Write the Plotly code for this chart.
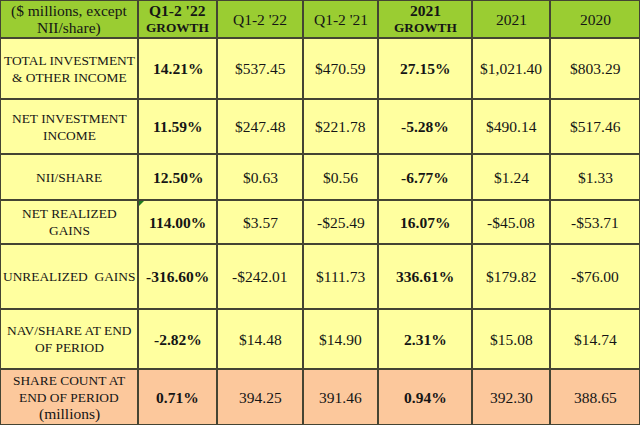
import plotly.graph_objects as go

# ------------------------------- data -------------------------------
header = ["($ millions, except\nNII/share)", "Q1-2 '22\nGROWTH", "Q1-2 '22",
          "Q1-2 '21", "2021\nGROWTH", "2021", "2020"]
row_labels = ["TOTAL INVESTMENT\n& OTHER INCOME", "NET INVESTMENT\nINCOME", "NII/SHARE",
              "NET REALIZED\nGAINS", "UNREALIZED  GAINS", "NAV/SHARE AT END\nOF PERIOD",
              "SHARE COUNT AT\nEND OF PERIOD\n(millions)"]
growth_q12 = [14.21, 11.59, 12.50, 114.00, -316.60, -2.82, 0.71]
q12_22 = [537.45, 247.48, 0.63, 3.57, -242.01, 14.48, 394.25]
q12_21 = [470.59, 221.78, 0.56, -25.49, 111.73, 14.90, 391.46]
growth_21 = [27.15, -5.28, -6.77, 16.07, 336.61, 2.31, 0.94]
y2021 = [1021.40, 490.14, 1.24, -45.08, 179.82, 15.08, 392.30]
y2020 = [803.29, 517.46, 1.33, -53.71, -76.00, 14.74, 388.65]
dollar_rows = [True, True, True, True, True, True, False]

# ------------------------------- layout constants -------------------
col_edges = [0, 138, 217, 303, 378, 472, 550, 640]
row_edges = [0, 38, 99, 154, 200, 244, 309, 369, 425]
colors = ['#9acd32', '#ffff9f', '#fcc89c']
LINE = 17


def pct(v):
    return f"{v:.2f}%"


def money(v, dollar):
    if not dollar:
        return f"{v:,.2f}"
    sign = "-" if v < 0 else ""
    return f"{sign}${abs(v):,.2f}"


# build cell texts / bold flags
cells = [[(h, h.endswith("GROWTH")) for h in header]]
for i, lab in enumerate(row_labels):
    d = dollar_rows[i]
    cells.append([(lab, False),
                  (pct(growth_q12[i]), True),
                  (money(q12_22[i], d), False),
                  (money(q12_21[i], d), False),
                  (pct(growth_21[i]), True),
                  (money(y2021[i], d), False),
                  (money(y2020[i], d), False)])

# background kind per row: header, normal, last row
z = []
for r in range(len(cells)):
    kind = 0 if r == 0 else (2 if r == len(cells) - 1 else 1)
    z.append([kind] * (len(col_edges) - 1))

fig = go.Figure()
fig.add_trace(go.Heatmap(
    x=col_edges, y=row_edges, z=z,
    colorscale=[[0, colors[0]], [0.5, colors[1]], [1, colors[2]]],
    zmin=0, zmax=2, showscale=False, hoverinfo='skip',
    xgap=2, ygap=2))


def font_size(line, bold):
    # all-caps words are set a bit smaller (times caps run wide)
    letters = [c for c in line if c.isalpha()]
    if len(letters) >= 3 and line.upper() == line:
        return 13.3 if bold else 13.4
    return 15.5


annotations = []
for r, row in enumerate(cells):
    yc = (row_edges[r] + row_edges[r + 1]) / 2
    for c, (txt, bold) in enumerate(row):
        xc = (col_edges[c] + col_edges[c + 1]) / 2
        lines = txt.split("\n")
        n = len(lines)
        for k, line in enumerate(lines):
            t = f"<b>{line}</b>" if bold else line
            annotations.append(dict(
                x=xc, y=yc + (k - (n - 1) / 2) * LINE, text=t,
                showarrow=False, xanchor='center', yanchor='middle',
                font=dict(family='Liberation Serif', size=font_size(line, bold),
                          color='#151515')))

# little excel error marker in the NET REALIZED GAINS / growth cell
x0, y0 = col_edges[1] + 1, row_edges[4] + 1
fig.add_shape(type='path', path=f"M {x0},{y0} L {x0+5},{y0} L {x0},{y0+5} Z",
              fillcolor='#1f7a1f', line=dict(width=0))

fig.update_layout(
    width=640, height=425, margin=dict(l=0, r=0, t=0, b=0),
    plot_bgcolor='#444433', paper_bgcolor='#444433',
    xaxis=dict(range=[0, 640], visible=False, fixedrange=True),
    yaxis=dict(range=[425, 0], visible=False, fixedrange=True),
    annotations=annotations, showlegend=False)

# drop the default 8px page margin so the table sits at the window corner
fig.write_html("out.html", config={'displayModeBar': False},
               post_script="document.body.style.margin='0';")
